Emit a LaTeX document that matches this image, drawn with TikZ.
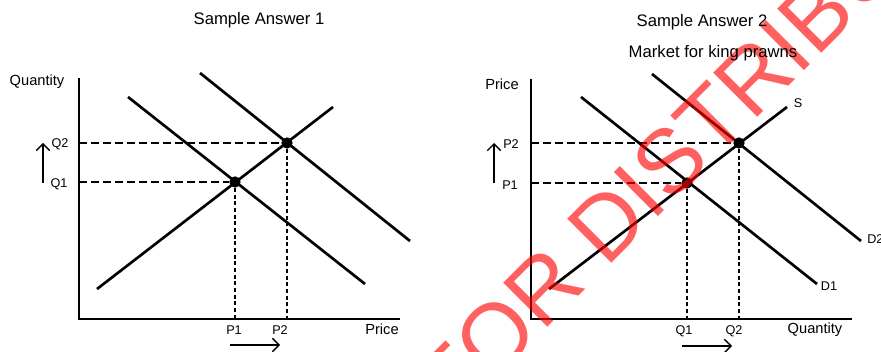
\documentclass[tikz,border=0pt]{standalone}
\usepackage{fontspec}
\setmainfont{Liberation Sans}
\usetikzlibrary{arrows.meta}

\begin{document}
\begin{tikzpicture}[
    x=0.75pt, y=-0.75pt,
    every node/.style={font=\fontsize{9.5}{11}\selectfont, inner sep=0pt},
    heading/.style={font=\fontsize{12.5}{14}\selectfont},
    axlabel/.style={font=\fontsize{11}{13}\selectfont},
    axisline/.style={line width=2pt},
    schedule/.style={line width=2pt},
    hguide/.style={line width=0.8pt, dash pattern=on 6pt off 3pt},
    vguide/.style={line width=0.8pt, dash pattern=on 3pt off 2pt},
    eq/.style={circle, fill=black, minimum size=8.5pt},
    move/.style={-{Straight Barb[length=5pt, width=10pt]}, line width=1pt},
    stamp/.style={font=\fontsize{68}{80}\selectfont, text=red, text opacity=0.62}
]
\useasboundingbox (0,0) rectangle (881,352);

\coordinate (yA) at (79,78);
\coordinate (oA) at (79,319);
\coordinate (xA) at (400,319);
\coordinate (sA0) at (97,289);
\coordinate (sA1) at (333,107);
\coordinate (dA0) at (128,97);
\coordinate (dA1) at (365,284);
\coordinate (dB0A) at (200,73);
\coordinate (dB1A) at (410,241);
\coordinate (q1A) at (79,182);
\coordinate (q2A) at (79,143);
\coordinate (p1A) at (235,319);
\coordinate (p2A) at (287,319);

\draw[axisline] (yA) -- (oA) -- (xA);
\draw[schedule] (sA0) -- (sA1);
\draw[schedule] (dA0) -- (dA1);
\draw[schedule] (dB0A) -- (dB1A);
\node[eq] (e1A) at (235,182) {};
\node[eq] (e2A) at (287,143) {};
\draw[hguide] (q1A) -- (e1A);
\draw[hguide] (q2A) -- (e2A);
\draw[vguide] (e1A) -- (p1A);
\draw[vguide] (e2A) -- (p2A);

\coordinate (upA0) at (43,183);
\coordinate (upA1) at (43,143);
\coordinate (rtA0) at (230,345);
\coordinate (rtA1) at (280,345);
\draw[move] (upA0) -- (upA1);
\draw[move] (rtA0) -- (rtA1);

\coordinate (yB) at (531,79);
\coordinate (oB) at (531,319);
\coordinate (xB) at (852,319);
\coordinate (sB0) at (549,289);
\coordinate (sB1) at (787,107);
\coordinate (dB0) at (581,97);
\coordinate (dB1) at (817,284);
\coordinate (dC0) at (652,74);
\coordinate (dC1) at (861,241);
\coordinate (p1B) at (531,183);
\coordinate (p2B) at (531,143);
\coordinate (q1B) at (687,319);
\coordinate (q2B) at (739,319);

\draw[axisline] (yB) -- (oB) -- (xB);
\draw[schedule] (sB0) -- (sB1);
\draw[schedule] (dB0) -- (dB1);
\draw[schedule] (dC0) -- (dC1);
\node[eq] (e1B) at (687,183) {};
\node[eq] (e2B) at (739,143) {};
\draw[hguide] (p1B) -- (e1B);
\draw[hguide] (p2B) -- (e2B);
\draw[vguide] (e1B) -- (q1B);
\draw[vguide] (e2B) -- (q2B);

\coordinate (upB0) at (494,183);
\coordinate (upB1) at (494,143);
\coordinate (rtB0) at (682,346);
\coordinate (rtB1) at (732,346);
\draw[move] (upB0) -- (upB1);
\draw[move] (rtB0) -- (rtB1);

\begin{scope}
\clip (0,0) rectangle (881,352);
\node[stamp, rotate=45, anchor=base west] (mark) at (453,422) {FOR DISTRIBUTION};
\end{scope}

\node[heading] (titleA) at (259,20) {Sample Answer 1};
\node[heading] (titleB) at (702,22) {Sample Answer 2};
\node[heading] (market) at (713,53) {Market for king prawns};

\node[axlabel] (qtyA)   at (37,82)   {Quantity};
\node[axlabel] (priceA) at (382,329) {Price};
\node (q2labA) at (60,144) {Q2};
\node (q1labA) at (59,184) {Q1};
\node (p1labA) at (234,330) {P1};
\node (p2labA) at (280,330) {P2};

\node[axlabel] (priceB) at (502,84)  {Price};
\node[axlabel] (qtyB)   at (815,330) {Quantity};
\node (slab)   at (798,103) {S};
\node (d1lab)  at (829,286) {D1};
\node[anchor=west] (d2lab) at (867,239) {D2};
\node (p2labB) at (511,144) {P2};
\node (p1labB) at (510,185) {P1};
\node (q1labB) at (684,331) {Q1};
\node (q2labB) at (734,331) {Q2};
\end{tikzpicture}
\end{document}
